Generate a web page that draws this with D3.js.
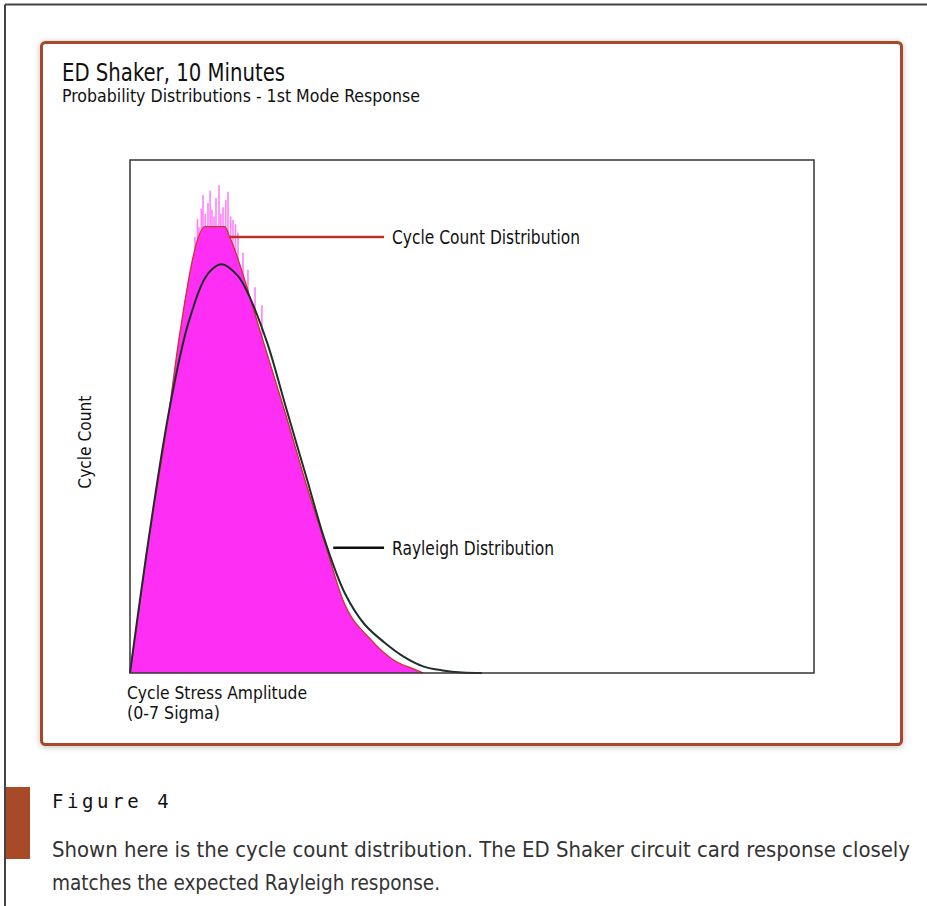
<!DOCTYPE html>
<html>
<head>
<meta charset="utf-8">
<script src="https://cdn.jsdelivr.net/npm/d3@7"></script>
<style>
  html, body { margin: 0; padding: 0; background: #fff; }
  svg { display: block; }
  .cond { font-family: "Liberation Sans Narrow", "DejaVu Sans Condensed", "Roboto Condensed", "Liberation Sans", sans-serif; font-stretch: condensed; fill: #111; }
</style>
</head>
<body>
<svg id="chart" width="927" height="906"></svg>
<script>
// Rayleigh curve (sigma units vs. relative cycle count, 0-100)
const raySigma = [0, 0.2, 0.4, 0.6, 0.8, 0.94, 1.1, 1.2, 1.4, 1.6, 1.8, 2.0, 2.2, 2.4, 2.6, 2.8, 3.0, 3.2, 3.4, 3.6];
const rayCount = [0, 27.3, 51.1, 68.4, 77.9, 79.7, 77.5, 74.3, 64.6, 51.5, 38.5, 25.5, 15.5, 9.5, 6, 3.2, 1.3, 0.5, 0.1, 0];

// measured cycle count distribution envelope (red outline)
const envSigma = [0, 0.2, 0.4, 0.5, 0.77, 0.97, 1.02, 1.35, 1.6, 1.8, 2.0, 2.18, 2.47, 2.7, 2.9, 3.0];
const envCount = [0, 27, 51, 65, 87, 87, 85, 65.5, 50, 37, 25, 14.2, 6.4, 2.5, 0.8, 0];

// noisy histogram spikes around the peak
const spikeSigma = [0.56, 0.61, 0.665, 0.69, 0.706, 0.73, 0.747, 0.77, 0.798, 0.82, 0.839, 0.86, 0.88, 0.911, 0.93, 0.952, 0.98, 1.003, 1.03, 1.054, 1.08, 1.105, 1.156, 1.207, 1.279, 1.35];
const spikeCount = [72.7, 77.6, 85.0, 88.5, 86.9, 90.5, 93.2, 89.5, 91.6, 94.0, 90.3, 89.0, 92.6, 95.1, 89.5, 90.8, 92.2, 93.8, 89.0, 88.3, 87.5, 85.8, 81.9, 78.6, 75.2, 71.7];

// callouts: anchor on curve, label position
const callouts = [
  { name: "Cycle Count Distribution", s: 1.02, v: 85, ls: 2.6, color: "#b8302b", w: 188 },
  { name: "Rayleigh Distribution", s: 2.08, v: 24.4, ls: 2.6, color: "#111", w: 162 }
];

const svg = d3.select("#chart");

const margin = { top: 160, right: 113, bottom: 233, left: 130 },
    width = +svg.attr("width") - margin.left - margin.right,
    height = +svg.attr("height") - margin.top - margin.bottom;

const x = d3.scaleLinear().domain([0, 7]).range([margin.left, margin.left + width]),
    y = d3.scaleLinear().domain([0, 100]).range([margin.top + height, margin.top]);

// squeeze a text to the width it has in the reference
const fit = (sel, w) => sel.attr("textLength", w).attr("lengthAdjust", "spacingAndGlyphs");

// page frame
svg.append("line").attr("x1", 5).attr("y1", 4.5).attr("x2", 927).attr("y2", 4.5)
    .attr("stroke", "#444").attr("stroke-width", 2);
svg.append("line").attr("x1", 5).attr("y1", 4.5).attr("x2", 5).attr("y2", 906)
    .attr("stroke", "#444").attr("stroke-width", 2);

const defs = svg.append("defs");
const f = defs.append("filter").attr("id", "shadow").attr("x", "-5%").attr("y", "-5%").attr("width", "110%").attr("height", "110%");
f.append("feDropShadow").attr("dx", 0).attr("dy", 1).attr("stdDeviation", 3).attr("flood-color", "#000").attr("flood-opacity", 0.25);

svg.append("rect")
    .attr("x", 41.5).attr("y", 42.5).attr("width", 860).attr("height", 702)
    .attr("rx", 4)
    .attr("fill", "#fff").attr("stroke", "#a9472a").attr("stroke-width", 3)
    .attr("filter", "url(#shadow)");

// titles
fit(svg.append("text").attr("class", "cond").attr("x", 62).attr("y", 81)
    .style("font-size", "24px").text("ED Shaker, 10 Minutes"), 223);
fit(svg.append("text").attr("class", "cond").attr("x", 62).attr("y", 102)
    .style("font-size", "18px").text("Probability Distributions - 1st Mode Response"), 358);

const g = svg.append("g");

// spikes
g.append("g")
    .selectAll("line")
    .data(spikeSigma)
    .enter()
    .append("line")
    .attr("x1", (d) => x(d))
    .attr("x2", (d) => x(d))
    .attr("y1", y(0))
    .attr("y2", (d, i) => y(spikeCount[i]))
    .attr("stroke", "#ff55f5")
    .attr("stroke-width", 1.6)
    .attr("stroke-opacity", 0.75);

const env = envSigma.map((s, i) => [s, envCount[i]]);
const ray = raySigma.map((s, i) => [s, rayCount[i]]);

g.append("path")
    .datum(env)
    .attr("fill", "#ff2ef5")
    .attr("d", d3.area().curve(d3.curveMonotoneX).x((d) => x(d[0])).y0(y(0)).y1((d) => y(d[1])));

g.append("path")
    .datum(env)
    .attr("fill", "none")
    .attr("stroke", "#c8352c")
    .attr("stroke-width", 1.3)
    .attr("d", d3.line().curve(d3.curveMonotoneX).x((d) => x(d[0])).y((d) => y(d[1])));

g.append("path")
    .datum(ray)
    .attr("fill", "none")
    .attr("stroke", "#1f2d2d")
    .attr("stroke-width", 2)
    .attr("d", d3.line().curve(d3.curveCatmullRom).x((d) => x(d[0])).y((d) => y(d[1])));

// plot frame
svg.append("rect")
    .attr("x", x(0)).attr("y", y(100))
    .attr("width", x(7) - x(0)).attr("height", y(0) - y(100))
    .attr("fill", "none").attr("stroke", "#333").attr("stroke-width", 1.5);

// callouts
const c = svg.append("g").selectAll("g").data(callouts).enter().append("g");
c.append("line")
    .attr("x1", (d) => x(d.s)).attr("y1", (d) => y(d.v))
    .attr("x2", (d) => x(d.ls)).attr("y2", (d) => y(d.v))
    .attr("stroke", (d) => d.color).attr("stroke-width", 2.5);
c.append("text")
    .attr("class", "cond")
    .attr("x", (d) => x(d.ls) + 8)
    .attr("y", (d) => y(d.v) + 7)
    .attr("textLength", (d) => d.w)
    .attr("lengthAdjust", "spacingAndGlyphs")
    .style("font-size", "19px")
    .text((d) => d.name);

// axis labels
fit(svg.append("text").attr("class", "cond")
    .attr("transform", "translate(91," + y(45) + ") rotate(-90)")
    .attr("text-anchor", "middle")
    .style("font-size", "18px").text("Cycle Count"), 93);
fit(svg.append("text").attr("class", "cond").attr("x", 127).attr("y", 699)
    .style("font-size", "18px").text("Cycle Stress Amplitude"), 180);
fit(svg.append("text").attr("class", "cond").attr("x", 127).attr("y", 719)
    .style("font-size", "18px").text("(0-7 Sigma)"), 93);

// caption
svg.append("rect").attr("x", 6).attr("y", 787).attr("width", 24).attr("height", 72).attr("fill", "#a84a28");
svg.append("text").attr("x", 52).attr("y", 808)
    .style("font-family", "'DejaVu Sans Mono', monospace").style("font-size", "19px")
    .style("letter-spacing", "3.6px").style("fill", "#111").text("Figure 4");
fit(svg.append("text").attr("class", "cond").attr("x", 52).attr("y", 857)
    .style("font-size", "21px").style("fill", "#333")
    .text("Shown here is the cycle count distribution. The ED Shaker circuit card response closely"), 858);
fit(svg.append("text").attr("class", "cond").attr("x", 52).attr("y", 890)
    .style("font-size", "21px").style("fill", "#333")
    .text("matches the expected Rayleigh response."), 388);
</script>
</body>
</html>
